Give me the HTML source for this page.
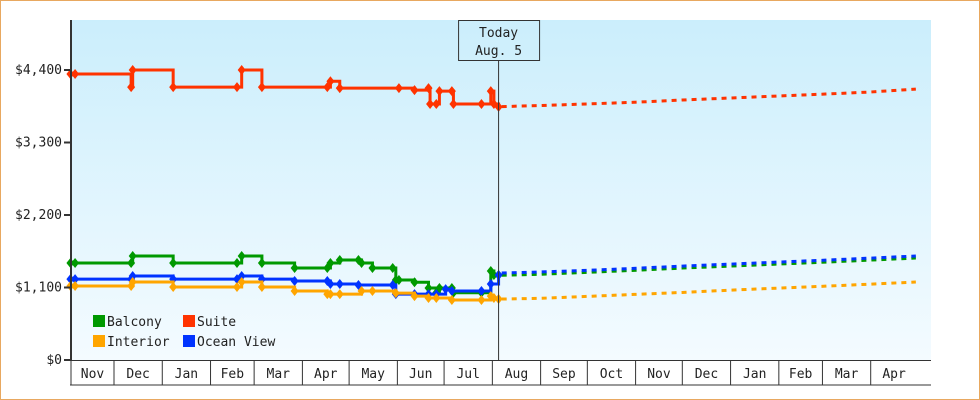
<!DOCTYPE html>
<html><head><meta charset="utf-8"><style>
body{margin:0;background:#fff}
#wrap{position:relative;width:978px;height:398px;border:1px solid #e8a860;}
svg{position:absolute;left:-1px;top:-1px}
text{font-family:"DejaVu Sans Mono","Liberation Mono",monospace;font-size:13px;fill:#222}
</style></head><body>
<div id="wrap">
<svg id="chart" width="980" height="400">
<defs><linearGradient id="bg" x1="0" y1="0" x2="0" y2="1"><stop offset="0" stop-color="#cbeefc"/><stop offset="1" stop-color="#f4fbff"/></linearGradient></defs>
<rect x="71" y="20" width="860" height="340" fill="url(#bg)"/>
<g id="grid"></g><g id="series"></g><g id="axes"></g>
</svg>
</div>
<script>
// days since Nov 1 (year 1)
const monthLabels=["Nov","Dec","Jan","Feb","Mar","Apr","May","Jun","Jul","Aug","Sep","Oct","Nov","Dec","Jan","Feb","Mar","Apr"];
const monthLengths=[30,31,31,28,31,30,31,30,31,31,30,31,30,31,31,28,31,30];
const yTicks=[0,1100,2200,3300,4400];
const yTickLabels=["$0","$1,100","$2,200","$3,300","$4,400"];
const seriesNames=["Balcony","Suite","Interior","Ocean View"];
const seriesColors=["#009900","#ff3300","#ffa500","#0033ff"];
const todayDay=277;
const suiteDays=[2,5,41,42,68,109,112,125,167,169,175,213,223,232,233,237,239,247,248,266,272,274,277];
const suiteVals=[4340,4340,4140,4400,4140,4140,4400,4140,4140,4230,4125,4125,4095,4125,3885,3885,4080,4080,3885,3885,4080,3885,3840];
const balconyDays=[2,5,41,42,68,109,112,125,146,167,169,175,187,189,196,209,211,213,223,232,237,239,247,248,266,272,274,277];
const balconyVals=[1471,1471,1471,1578,1471,1471,1578,1471,1395,1395,1471,1517,1517,1471,1395,1395,1213,1213,1180,1092,1020,1092,1092,1020,1020,1350,1290,1290];
const interiorDays=[2,5,41,42,68,109,112,125,146,167,169,175,189,196,211,223,232,237,247,266,272,274,277];
const interiorVals=[1122,1122,1122,1183,1107,1107,1183,1107,1046,1000,1000,1000,1046,1046,1015,970,940,940,910,910,970,940,925];
const oceanDays=[2,5,41,42,68,109,112,125,146,167,169,175,187,209,211,223,232,237,243,247,266,272,277];
const oceanVals=[1228,1228,1228,1274,1228,1228,1274,1228,1198,1198,1153,1153,1138,1138,1000,1000,1000,1000,1076,1046,1046,1153,1290];
const forecastDays=[284,303,334,364,395,426,456,487,515,545];
const suiteForecast=[3845,3860,3885,3910,3945,3975,4005,4035,4065,4110];
const balconyForecast=[1285,1300,1330,1360,1395,1425,1455,1485,1515,1547];
const interiorForecast=[925,935,965,995,1025,1060,1090,1120,1150,1183];
const oceanForecast=[1320,1335,1360,1390,1425,1455,1485,1515,1545,1578];

const NS="http://www.w3.org/2000/svg";
const X=d=>114+(d-30)*1.557;
const Y=v=>360-v*290/4400;
function mk(tag,attrs,parent){const e=document.createElementNS(NS,tag);for(const k in attrs)e.setAttribute(k,attrs[k]);parent.appendChild(e);return e;}
const axes=document.getElementById('axes'),series=document.getElementById('series');
// months
let d=0;
for(let i=0;i<monthLabels.length;i++){
  const x0=Math.max(71,X(d)),x1=Math.min(931,X(d+monthLengths[i]));
  const ln=mk('line',{x1:x0,y1:361,x2:x0,y2:385,stroke:'#333','stroke-width':1},axes);
  
  
  const t=mk('text',{x:(x0+x1)/2,y:378,'text-anchor':'middle'},axes);t.textContent=monthLabels[i];
  
  
  d+=monthLengths[i];
}
const bl=mk('line',{x1:70,y1:385,x2:931,y2:385,stroke:'#333','stroke-width':1},axes);


const xa=mk('line',{x1:70,y1:360.5,x2:931,y2:360.5,stroke:'#333','stroke-width':1},axes);


const ya=mk('line',{x1:71,y1:20,x2:71,y2:361,stroke:'#333','stroke-width':2},axes);


yTicks.forEach((v,i)=>{
  const tk=mk('line',{x1:64,y1:Y(v),x2:71,y2:Y(v),stroke:'#333','stroke-width':2},axes);
  
  
  const t=mk('text',{x:62,y:Y(v)+4,'text-anchor':'end'},axes);t.textContent=yTickLabels[i];
  
  
});
function drawSeries(days,vals,fd,fv,color,name){
  const g=mk('g',{},series);
  
  
  let p='M'+X(days[0])+' '+Y(vals[0]);
  for(let i=1;i<days.length;i++)p+=' H'+X(days[i])+' V'+Y(vals[i]);
  const ln=mk('path',{d:p,fill:'none',stroke:color,'stroke-width':3},g);
  
  
  let q='M'+X(todayDay+2)+' '+Y(fv[0]);
  for(let i=1;i<fd.length;i++)q+=' L'+X(fd[i])+' '+Y(fv[i]);
  const fl=mk('path',{d:q,fill:'none',stroke:color,'stroke-width':3,'stroke-dasharray':'5 5'},g);
  
  
  days.forEach((dd,i)=>{
    const c=mk('path',{d:`M${X(dd)} ${Y(vals[i])-5} l4 5 l-4 5 l-4 -5z`,fill:color},g);
    
    
  });
}
drawSeries(suiteDays,suiteVals,forecastDays,suiteForecast,seriesColors[1],'suite');
drawSeries(balconyDays,balconyVals,forecastDays,balconyForecast,seriesColors[0],'balcony');
drawSeries(oceanDays,oceanVals,forecastDays,oceanForecast,seriesColors[3],'ocean-view');
drawSeries(interiorDays,interiorVals,forecastDays,interiorForecast,seriesColors[2],'interior');
// today marker
const tx=X(todayDay);
const tl=mk('line',{x1:tx,y1:60,x2:tx,y2:360,stroke:'#333','stroke-width':1},axes);


const tb=mk('rect',{x:tx-40,y:20.5,width:81,height:40,fill:'none',stroke:'#333'},axes);


const t1=mk('text',{x:tx,y:37,'text-anchor':'middle'},axes);t1.textContent='Today';


const t2=mk('text',{x:tx,y:55,'text-anchor':'middle'},axes);t2.textContent='Aug. 5';


// legend
const legPos=[[93,315],[183,315],[93,335],[183,335]];
const legOrder=[0,1,2,3];
legOrder.forEach((si,i)=>{
  const [lx,ly]=legPos[i];
  const r=mk('rect',{x:lx,y:ly,width:12,height:12,fill:seriesColors[si]},axes);
  
  
  const t=mk('text',{x:lx+14,y:ly+11},axes);t.textContent=seriesNames[si];
  
  
});
</script>
</body></html>
